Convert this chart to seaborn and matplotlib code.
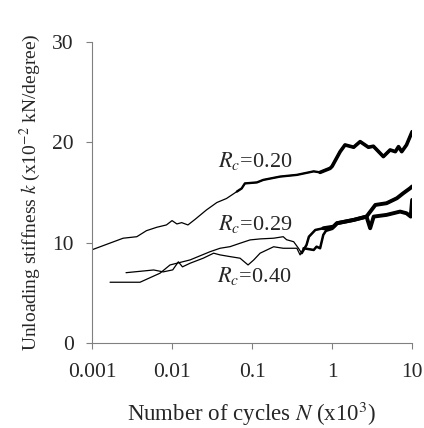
import numpy as np
import pandas as pd
import matplotlib
matplotlib.use("Agg")
import matplotlib.pyplot as plt
import seaborn as sns

# ---- data ----
rc20_n = [0.001, 0.00245, 0.00363, 0.00479, 0.00646, 0.00851, 0.0100, 0.0115, 0.0132,
          0.0158, 0.0195, 0.0269, 0.0363, 0.0479, 0.0646, 0.0741, 0.0813, 0.115, 0.138,
          0.224, 0.363, 0.589, 0.708, 0.944, 1.00, 1.26, 1.45, 1.86, 2.24, 2.84, 3.28,
          4.37, 5.31, 6.17, 6.76, 7.41, 8.51, 10.0]
rc20_k = [9.3, 10.45, 10.6, 11.2, 11.54, 11.77, 12.2, 11.87, 12.0,
          11.77, 12.34, 13.26, 14.0, 14.4, 15.09, 15.4, 15.9, 16.0, 16.25,
          16.58, 16.75, 17.1, 17.0, 17.4, 17.6, 19.06, 19.73, 19.5, 20.06, 19.5, 19.6,
          18.57, 19.23, 19.06, 19.56, 19.06, 19.73, 21.05]

rc29_n = [0.00168, 0.00398, 0.00708, 0.00944, 0.0168, 0.0299, 0.0398, 0.0531, 0.0708,
          0.0944, 0.126, 0.186, 0.245, 0.27, 0.331, 0.38, 0.417, 0.479, 0.513, 0.617,
          0.776, 1.04, 1.15, 1.86, 2.69, 3.47, 4.79, 6.46, 7.76, 9.44, 10.0]
rc29_k = [6.07, 6.07, 6.97, 7.79, 8.29, 9.11, 9.45, 9.61, 9.95,
          10.28, 10.38, 10.45, 10.6, 10.3, 10.1, 9.45, 8.96, 9.78, 10.6, 11.27,
          11.44, 11.6, 11.94, 12.27, 12.6, 13.76, 13.93, 14.43, 14.93, 15.42, 15.6]

rc40_n = [0.00266, 0.0059, 0.00776, 0.0102, 0.012, 0.0135, 0.0168, 0.0245, 0.0331,
          0.0398, 0.0531, 0.0708, 0.0891, 0.105, 0.126, 0.186, 0.245, 0.363, 0.398,
          0.44, 0.589, 0.64, 0.708, 0.776, 0.851, 1.0, 1.15, 1.86, 2.69, 2.99, 3.31,
          4.79, 7.08, 8.51, 9.6, 10.0]
rc40_k = [7.02, 7.29, 7.1, 7.3, 8.1, 7.6, 7.96, 8.46, 8.96,
          8.79, 8.62, 8.46, 7.79, 8.29, 8.96, 9.6, 9.45, 9.45, 8.79,
          9.45, 9.28, 9.61, 9.45, 10.78, 11.27, 11.44, 11.94, 12.27, 12.6, 11.44, 12.6,
          12.77, 13.1, 12.93, 12.6, 14.26]

labels = ["$R_c$=0.20", "$R_c$=0.29", "$R_c$=0.40"]
x_ticks = [0.001, 0.01, 0.1, 1, 10]
x_tick_labels = ["0.001", "0.01", "0.1", "1", "10"]
y_ticks = [0, 10, 20, 30]

# ---- style ----
sns.set_style("ticks")
plt.rcParams["font.family"] = ["Liberation Serif", "DejaVu Serif"]
plt.rcParams["mathtext.fontset"] = "stix"

fig = plt.figure(figsize=(4.24, 4.28), dpi=100)
ax = fig.add_axes([0.217, 0.198, 0.755, 0.7046])

def draw(n, k, stages):
    df = pd.DataFrame({"n": n, "k": k})
    for thr, lw in stages:
        idx = np.where(df["n"].values >= thr)[0]
        if len(idx) == 0:
            continue
        start = max(idx[0] - 1, 0)
        sub = df.iloc[start:]
        sns.lineplot(data=sub, x="n", y="k", ax=ax, color="black", lw=lw,
                     sort=False, estimator=None, legend=False)

draw(rc20_n, rc20_k, [(0.0, 0.9), (0.07, 1.7), (0.9, 2.6)])
draw(rc29_n, rc29_k, [(0.0, 0.9), (0.45, 1.8), (1.0, 2.8)])
draw(rc40_n, rc40_k, [(0.0, 0.9), (0.45, 1.8), (1.0, 2.8)])

ax.set_xscale("log")
ax.set_xlim(0.001, 10)
ax.set_ylim(0, 30)
ax.set_xticks(x_ticks)
ax.set_xticklabels(x_tick_labels)
ax.xaxis.set_minor_locator(matplotlib.ticker.NullLocator())
ax.set_yticks(y_ticks)

for s in ["top", "right"]:
    ax.spines[s].set_visible(False)
for s in ["left", "bottom"]:
    ax.spines[s].set_color("#808080")
    ax.spines[s].set_linewidth(0.8)
ax.tick_params(axis="both", which="major", length=4, width=0.8, color="#808080",
               labelsize=15.5, direction="out")
ax.tick_params(axis="y", pad=9)
ax.tick_params(axis="x", pad=10)

ax.set_xlabel("Number of cycles $N$ (x10$^{3}$)", fontsize=16.5, labelpad=13)
ax.set_ylabel("Unloading stiffness $k$ (x10$^{-2}$ kN/degree)", fontsize=14, labelpad=7)

ax.text(0.0376, 17.5, labels[0], fontsize=16, ha="left", va="baseline")
ax.text(0.0376, 11.27, labels[1], fontsize=16, ha="left", va="baseline")
ax.text(0.0363, 6.13, labels[2], fontsize=16, ha="left", va="baseline")

fig.savefig("out.png", dpi=100)
